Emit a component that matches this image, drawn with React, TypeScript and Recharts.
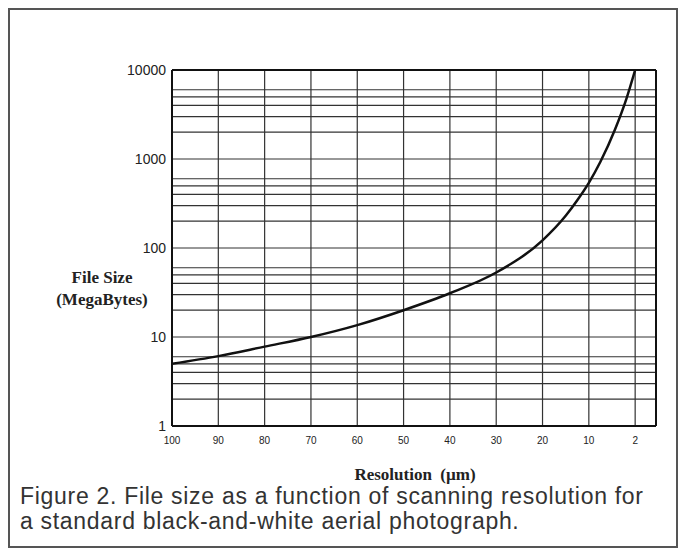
import { LineChart, Line, XAxis, YAxis, CartesianGrid, ReferenceLine } from 'recharts';

// ── Data ───────────────────────────────────────────────────────────────────

// x-axis tick labels (µm), evenly spaced on the axis
const RESOLUTION_TICKS = [100, 90, 80, 70, 60, 50, 40, 30, 20, 10, 2];

// points
const CURVE_RESOLUTION = [100, 90, 80, 70, 60, 50, 40, 30, 20, 15, 12.5, 10, 8, 5.5, 3.5, 2];
const CURVE_SIZE_MB = [5, 6.1, 7.8, 10, 13.6, 20, 31, 53, 122, 230, 344, 540, 930, 2130, 4770, 10000];

const DECADES = [1, 10, 100, 1000, 10000];

// ── Helpers ────────────────────────────────────────────────────────────────

// the axis is laid out by tick position, so map a resolution onto tick slots
function toSlot(r: number) {
  for (let i = 0; i < RESOLUTION_TICKS.length - 1; i++) {
    const a = RESOLUTION_TICKS[i];
    const b = RESOLUTION_TICKS[i + 1];
    if (r <= a && r >= b) return i + (a - r) / (a - b);
  }
  return RESOLUTION_TICKS.length - 1;
}

const data = CURVE_RESOLUTION.map((r, i) => ({ slot: toSlot(r), size: CURVE_SIZE_MB[i] }));

// log grid: every 1..9 multiple inside each decade
const yTicks: number[] = [];
DECADES.slice(0, -1).forEach((d) => {
  for (let m = 1; m < 10; m++) yTicks.push(d * m);
});
yTicks.push(10000);

const xTicks = RESOLUTION_TICKS.map((_, i) => i);
const X_MAX = 10.45;

const tickFont = { fontFamily: 'Arial, "Liberation Sans", sans-serif', fill: '#222' };
const serifBold = {
  fontFamily: '"Liberation Serif", "Times New Roman", serif',
  fontWeight: 700,
  fontSize: 17,
  color: '#222',
};

export default function App() {
  return (
    <div
      style={{
        position: 'relative',
        width: 666,
        height: 536,
        border: '2px solid #555',
        background: '#fff',
      }}
    >
      <LineChart
        width={660}
        height={480}
        data={data}
        margin={{ top: 60, right: 14, left: 102, bottom: 34 }}
      >
        <CartesianGrid stroke="#333" strokeWidth={1.2} />
        <XAxis
          dataKey="slot"
          type="number"
          domain={[0, X_MAX]}
          ticks={xTicks}
          allowDataOverflow
          tickFormatter={(v) => String(RESOLUTION_TICKS[v] ?? '')}
          tick={{ ...tickFont, fontSize: 10 }}
          tickSize={0}
          tickMargin={11}
          height={30}
          axisLine={{ stroke: '#111', strokeWidth: 2 }}
          tickLine={false}
        />
        <YAxis
          type="number"
          scale="log"
          domain={[1, 10000]}
          ticks={yTicks}
          allowDataOverflow
          tickFormatter={(v) => (DECADES.includes(v) ? String(v) : '')}
          tick={{ ...tickFont, fontSize: 14 }}
          tickSize={0}
          tickMargin={6}
          width={60}
          axisLine={{ stroke: '#111', strokeWidth: 2 }}
          tickLine={false}
        />
        <ReferenceLine x={X_MAX} stroke="#111" strokeWidth={2} />
        <ReferenceLine y={10000} stroke="#111" strokeWidth={2} />
        <Line
          type="monotone"
          dataKey="size"
          stroke="#111"
          strokeWidth={2.5}
          dot={false}
          isAnimationActive={false}
        />
      </LineChart>

      {/* y-axis title */}
      <div
        style={{
          ...serifBold,
          position: 'absolute',
          left: 22,
          top: 257,
          width: 140,
          textAlign: 'center',
          lineHeight: '22px',
        }}
      >
        File Size
        <br />
        (MegaBytes)
      </div>

      {/* x-axis title */}
      <div
        style={{
          ...serifBold,
          position: 'absolute',
          left: 295,
          top: 455,
          width: 220,
          textAlign: 'center',
          lineHeight: '20px',
        }}
      >
        Resolution&nbsp;&nbsp;(µm)
      </div>

      {/* caption */}
      <div
        style={{
          position: 'absolute',
          left: 10,
          top: 474,
          width: 660,
          fontFamily: 'Arial, "Liberation Sans", sans-serif',
          fontSize: 23,
          letterSpacing: 0.7,
          lineHeight: '25px',
          color: '#333',
          whiteSpace: 'nowrap',
        }}
      >
        Figure 2. File size as a function of scanning resolution for
        <br />
        a standard black-and-white aerial photograph.
      </div>
    </div>
  );
}
